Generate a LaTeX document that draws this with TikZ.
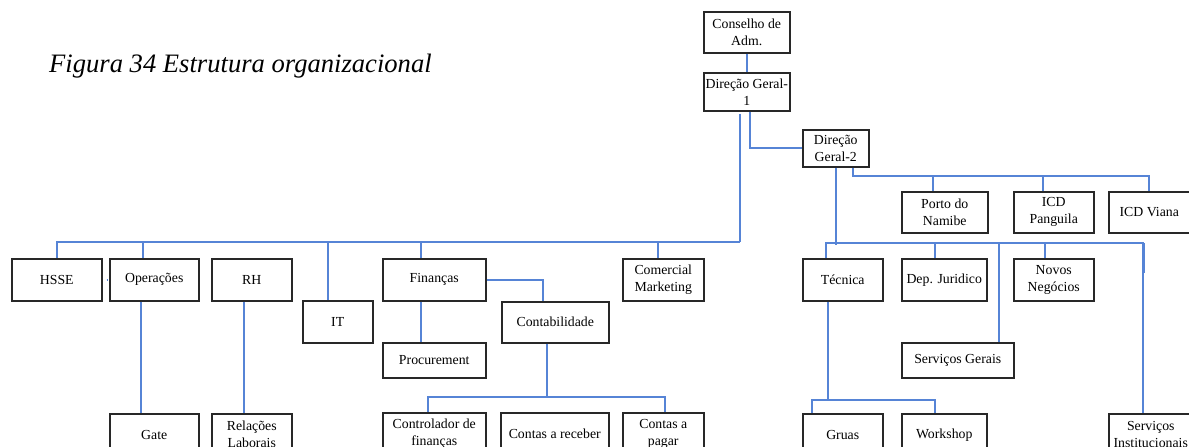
\documentclass[tikz,border=0pt]{standalone}
\usepackage{fontspec}
\setmainfont{Liberation Serif}
\definecolor{linkblue}{RGB}{86,132,214}
\definecolor{boxline}{RGB}{40,40,40}
\begin{document}
\begin{tikzpicture}[x=1pt,y=-1pt,
  box/.style 2 args={draw=boxline, line width=1.5pt, align=center, inner sep=0pt,
    anchor=north west, minimum width=#1, minimum height=#2,
    font=\fontsize{13.8}{17}\selectfont},
  link/.style={draw=linkblue, line width=1.7pt},
  title/.style={anchor=base west, inner sep=0pt, font=\fontsize{26.6}{32}\selectfont\itshape}]
\useasboundingbox (0,0) rectangle (1189,447);
\clip (0,0) rectangle (1189,447);

% caption
\node[title] (cap) at (49,72) {Figura 34 Estrutura organizacional};

% top of the hierarchy
\node[box={86pt}{41pt}] (cons) at (703,11) {Conselho de\\Adm.};
\node[box={86pt}{38pt}] (dg1) at (703,72) {Direção Geral-\\1};
\node[box={66pt}{37pt}] (dg2) at (802,129) {Direção\\Geral-2};

% units under Direção Geral-2 (upper row)
\node[box={86pt}{41pt}] (porto) at (901,191) {Porto do\\Namibe};
\node[box={80pt}{41pt}] (icdp) at (1013,191) {ICD\\Panguila};
\node[box={81pt}{41pt}] (icdv) at (1108,191) {ICD Viana};

% departments under Direção Geral-1
\node[box={90pt}{42pt}] (hsse) at (11,258) {HSSE};
\node[box={89pt}{42pt}] (ops) at (109,258) {Operações};
\node[box={80pt}{42pt}] (rh) at (211,258) {RH};
\node[box={70pt}{42pt}] (it) at (302,300) {IT};
\node[box={103pt}{42pt}] (fin) at (382,258) {Finanças};
\node[box={107pt}{41pt}] (cont) at (501,301) {Contabilidade};
\node[box={103pt}{35pt}] (proc) at (382,342) {Procurement};
\node[box={81pt}{42pt}] (com) at (622,258) {Comercial\\Marketing};

% departments under Direção Geral-2
\node[box={80pt}{42pt}] (tec) at (802,258) {Técnica};
\node[box={85pt}{42pt}] (dep) at (901,258) {Dep. Juridico};
\node[box={80pt}{42pt}] (novos) at (1013,258) {Novos\\Negócios};
\node[box={112pt}{35pt}] (sg) at (901,342) {Serviços Gerais};

% bottom row
\node[box={89pt}{42pt}] (gate) at (109,413) {Gate};
\node[box={80pt}{42pt}] (rel) at (211,413) {Relações\\Laborais};
\node[box={103pt}{42pt}] (ctrl) at (382,412) {Controlador de\\finanças};
\node[box={108pt}{42pt}] (crec) at (500,412) {Contas a receber};
\node[box={81pt}{42pt}] (cpag) at (622,412) {Contas a\\pagar};
\node[box={80pt}{42pt}] (gruas) at (802,413) {Gruas};
\node[box={85pt}{42pt}] (work) at (901,413) {Workshop};
\node[box={84pt}{42pt}] (sinst) at (1108,413) {Serviços\\Institucionais};

% junction points of the buses
\coordinate (busL) at ([xshift=-7pt]dg1.south |- 0,242);
\coordinate (busR) at ([xshift=-8pt]sinst.north |- 0,243);
\coordinate (busU) at (icdv.north |- 0,176);
\coordinate (busC) at ([xshift=2pt]cpag.north |- 0,397);
\coordinate (busT) at ([xshift=-9pt]work.north |- 0,400);

% connectors
\draw[link] (cons.south) -- (dg1.north);
\draw[link] ([xshift=-7pt,yshift=-2pt]dg1.south) -- (busL);
\draw[link] ([xshift=3pt]dg1.south) |- (dg2.west);

\draw[link] (hsse.north) |- (busL);
\draw[link] ([xshift=-11pt]ops.north) -- ++(0,-16);
\draw[link] ([xshift=-10pt]it.north) -- ++(0,-58);
\draw[link] ([xshift=-13pt]fin.north) -- ++(0,-16);
\draw[link] ([xshift=-5pt]com.north) -- ++(0,-16);
\draw[link] ([xshift=4pt]hsse.east) -- ([xshift=-2pt]ops.west);

\draw[link] ([xshift=-13pt]ops.south) -- ([xshift=-13pt]gate.north);
\draw[link] ([xshift=-8pt]rh.south) -- ([xshift=-8pt]rel.north);
\draw[link] (fin.east) -| ([xshift=-12pt]cont.north);
\draw[link] ([xshift=-13pt]fin.south) -- ([xshift=-13pt]proc.north);
\draw[link] ([xshift=-8pt]cont.south) |- (busC);
\draw[link] ([xshift=-6pt]ctrl.north) |- (busC) -- ([xshift=2pt]cpag.north);

\draw[link] (dg2.south) -- ++(0,77);
\draw[link] ([xshift=-17pt]tec.north) |- (busR) -- ([xshift=-8pt]sinst.north);
\draw[link] ([xshift=1.5pt]busR) -- ++(0,30);
\draw[link] ([xshift=-9pt]dep.north) -- ++(0,-15);
\draw[link] ([xshift=41pt]sg.north) -- ++(0,-99);
\draw[link] ([xshift=-9pt]novos.north) -- ++(0,-15);

\draw[link] ([xshift=17pt]dg2.south) |- (busU) -- (icdv.north);
\draw[link] ([xshift=-12pt]porto.north) -- ++(0,-15);
\draw[link] ([xshift=-11pt]icdp.north) -- ++(0,-15);

\draw[link] ([xshift=-15pt]tec.south) |- (busT) -- ([xshift=-9pt]work.north);
\draw[link] ([xshift=-31pt]gruas.north) |- (busT);
\end{tikzpicture}
\end{document}
